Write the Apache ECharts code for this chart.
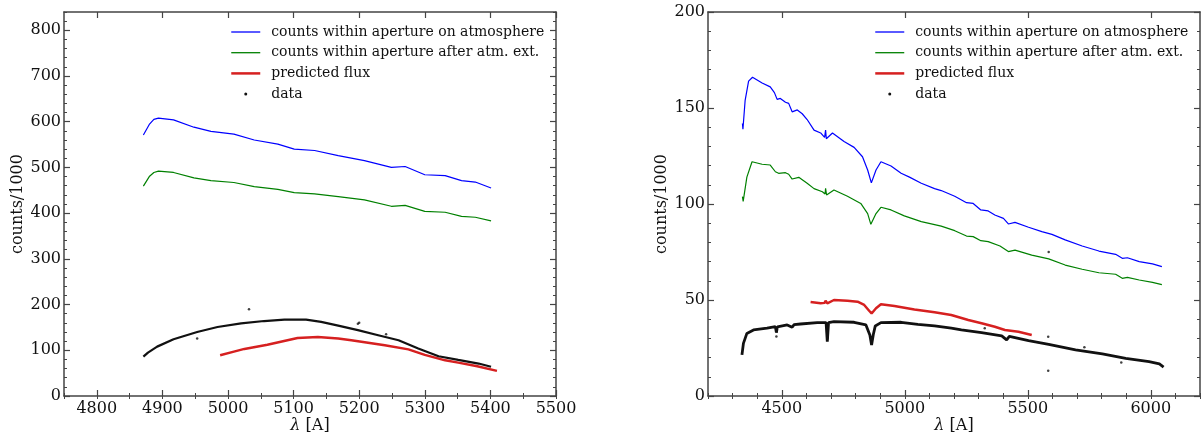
<!DOCTYPE html>
<html>
<head>
<meta charset="utf-8">
<script src="https://cdn.jsdelivr.net/npm/echarts@6/dist/echarts.min.js"></script>
<style>
  html, body { margin: 0; padding: 0; background: #fff; }
  #chart { width: 1203px; height: 437px; }
</style>
</head>
<body>
<div id="chart"></div>
<script>
// ---- left panel (4750-5500 A) ----
const leftWave = [4871, 4880, 4887, 4894, 4917, 4948, 4974, 5009, 5040, 5076, 5101, 5132, 5168, 5208, 5249, 5270, 5300, 5331, 5356, 5377, 5401];
const leftAtmo = [571, 594, 605, 608, 604, 588, 579, 573, 560, 551, 540, 537, 526, 515, 500, 502, 484, 482, 471, 468, 455];
const leftExt  = [459, 480, 489, 492, 489, 477, 471, 467, 458, 452, 445, 442, 436, 429, 415, 417, 404, 402, 393, 391, 383];

const leftFluxWave = [4988, 5009, 5025, 5060, 5106, 5137, 5168, 5188, 5239, 5275, 5300, 5331, 5351, 5380, 5410];
const leftFlux     = [89, 97, 103, 112, 127, 129, 126, 122, 111, 102, 90, 78, 73, 65, 55];

const leftDataWave = [4871, 4878, 4892, 4917, 4953, 4984, 5020, 5055, 5086, 5119, 5142, 5168, 5198, 5229, 5260, 5290, 5321, 5351, 5382, 5401];
const leftData     = [86, 95, 108, 124, 140, 151, 159, 164, 167, 167, 162, 154, 144, 133, 122, 104, 87, 79, 71, 64];
const leftOutWave  = [5032, 4953, 5200, 5198, 5241];
const leftOut      = [190, 126, 160, 158, 135];

// ---- right panel (4200-6200 A) ----
const rightAtmoWave = [4340, 4342, 4351, 4365, 4381, 4420, 4453, 4470, 4481, 4494, 4515, 4528, 4542, 4563, 4583, 4603, 4631, 4658, 4674, 4678, 4681, 4706, 4753, 4794, 4828, 4849, 4864, 4883, 4903, 4944, 4985, 5019, 5067, 5121, 5148, 5203, 5251, 5278, 5309, 5339, 5366, 5401, 5421, 5448, 5503, 5557, 5598, 5652, 5721, 5789, 5857, 5884, 5905, 5953, 6007, 6045];
const rightAtmo     = [142, 139, 154, 164, 166, 163, 161, 158, 154.5, 155, 153, 152.4, 148, 149, 147, 144, 138.5, 137, 134.7, 138.5, 134, 137, 132.5, 129.5, 124.6, 117.7, 111, 117.7, 122, 119.8, 116, 114, 110.8, 108, 107, 104, 100.7, 100.3, 96.9, 96.4, 94.3, 92.5, 89.6, 90.4, 87.9, 85.6, 84.2, 81.3, 78.1, 75.5, 73.8, 71.7, 72, 70, 68.8, 67.4];

const rightExtWave = [4340, 4343, 4358, 4379, 4420, 4453, 4474, 4487, 4515, 4528, 4542, 4569, 4603, 4631, 4665, 4676, 4678, 4682, 4712, 4767, 4821, 4849, 4862, 4883, 4903, 4944, 4998, 5067, 5148, 5203, 5251, 5278, 5309, 5339, 5387, 5421, 5448, 5516, 5585, 5652, 5721, 5789, 5857, 5884, 5905, 5953, 6007, 6045];
const rightExt     = [103.8, 101.4, 114, 122, 120.7, 120.3, 116.8, 116, 116.3, 115.5, 113, 113.9, 110.8, 108, 106.4, 105.2, 108.2, 104.7, 107.3, 104, 100.3, 95, 89.4, 95, 98.3, 96.9, 93.8, 90.8, 88.5, 86.1, 83.3, 83, 80.9, 80.4, 78.1, 75.2, 76, 73.4, 71.4, 68.2, 66, 64.2, 63.4, 61.3, 61.8, 60.4, 59.2, 58];

const rightFluxWave = [4617, 4658, 4674, 4678, 4685, 4712, 4767, 4808, 4835, 4855, 4865, 4883, 4903, 4958, 5039, 5121, 5189, 5258, 5312, 5366, 5407, 5462, 5516];
const rightFlux     = [49, 48.3, 48.5, 49.6, 48.3, 50, 49.6, 49.1, 47.4, 44.4, 43, 45.7, 47.8, 46.9, 45.1, 43.6, 42.2, 39.6, 37.9, 36.1, 34.4, 33.5, 31.8];

const rightDataWave = [4338, 4344, 4358, 4385, 4440, 4474, 4478, 4482, 4522, 4542, 4550, 4576, 4644, 4680, 4685, 4690, 4712, 4794, 4842, 4858, 4865, 4872, 4880, 4903, 4985, 5053, 5121, 5189, 5230, 5312, 5394, 5414, 5425, 5503, 5585, 5694, 5803, 5898, 5993, 6035, 6052];
const rightData     = [21.4, 27.4, 32.6, 34.4, 35.3, 36.1, 33, 36, 37, 35.8, 37.2, 37.5, 38.2, 38.2, 28.3, 38.2, 38.7, 38.4, 37, 31.8, 26.6, 32, 36.5, 38.2, 38.4, 37.3, 36.5, 35.3, 34.4, 33, 31.3, 29.2, 31, 28.8, 26.9, 24, 21.9, 19.6, 17.9, 16.7, 15];
const rightOutWave  = [5583, 5583, 5325, 5730, 5880, 5585, 4478, 4686];
const rightOut      = [30.9, 13.2, 35.3, 25.4, 17.5, 75, 31, 30];

// tick positions
const steps = (a, b, d) => { const r = []; for (let v = a; v <= b + 1e-9; v += d) r.push(v); return r; };
const leftXMajor = steps(4800, 5500, 100);
const leftXMinor = steps(4750, 5500, 50);
const leftYMajor = steps(0, 800, 100);
const leftYMinor = steps(0, 840, 20);
const rightXMajor = [4500, 5000, 5500, 6000];
const rightXMinor = steps(4200, 6200, 100);
const rightYMajor = [0, 50, 100, 150, 200];
const rightYMinor = steps(0, 200, 10);

const NAMES = ['counts within aperture on atmosphere', 'counts within aperture after atm. ext.', 'predicted flux', 'data'];
const FONT = 'DejaVu Serif';
const AXIS = '#444';
const pairs = (xs, ys) => xs.map((x, i) => [x, ys[i]]);
const plain = v => String(v);

function xAxes(grid, min, max, major, minor) {
  const base = { type: 'value', gridIndex: grid, min, max, splitLine: { show: false } };
  return [
    {
      ...base, position: 'bottom',
      axisLine: { show: true, onZero: false, lineStyle: { color: AXIS, width: 1.5 } },
      axisTick: { inside: true, length: 6, customValues: major, lineStyle: { color: AXIS, width: 1.2 } },
      axisLabel: { customValues: major, formatter: plain, margin: 5, color: '#111', fontFamily: FONT, fontSize: 16 },
      name: '{i|λ} [A]', nameLocation: 'middle', nameGap: 22, nameMoveOverlap: false,
      nameTextStyle: { color: '#111', fontFamily: FONT, fontSize: 16, rich: { i: { fontStyle: 'italic', fontFamily: FONT, fontSize: 16, color: '#111' } } }
    },
    { ...base, position: 'bottom', axisLine: { show: false },
      axisTick: { inside: true, length: 3, customValues: minor, lineStyle: { color: AXIS, width: 1 } }, axisLabel: { show: false } },
    { ...base, position: 'top',
      axisLine: { show: true, onZero: false, lineStyle: { color: AXIS, width: 1.5 } },
      axisTick: { inside: true, length: 6, customValues: major, lineStyle: { color: AXIS, width: 1.2 } }, axisLabel: { show: false } },
    { ...base, position: 'top', axisLine: { show: false },
      axisTick: { inside: true, length: 3, customValues: minor, lineStyle: { color: AXIS, width: 1 } }, axisLabel: { show: false } }
  ];
}

function yAxes(grid, min, max, major, minor) {
  const base = { type: 'value', gridIndex: grid, min, max, splitLine: { show: false } };
  return [
    {
      ...base, position: 'left',
      axisLine: { show: true, onZero: false, lineStyle: { color: AXIS, width: 1.5 } },
      axisTick: { inside: true, length: 6, customValues: major, lineStyle: { color: AXIS, width: 1.2 } },
      axisLabel: { customValues: major, formatter: plain, margin: 3, color: '#111', fontFamily: FONT, fontSize: 16 },
      name: 'counts/1000', nameLocation: 'middle', nameGap: 38, nameMoveOverlap: false,
      nameTextStyle: { color: '#111', fontFamily: FONT, fontSize: 16 }
    },
    { ...base, position: 'left', axisLine: { show: false },
      axisTick: { inside: true, length: 3, customValues: minor, lineStyle: { color: AXIS, width: 1 } }, axisLabel: { show: false } },
    { ...base, position: 'right',
      axisLine: { show: true, onZero: false, lineStyle: { color: AXIS, width: 1.5 } },
      axisTick: { inside: true, length: 6, customValues: major, lineStyle: { color: AXIS, width: 1.2 } }, axisLabel: { show: false } },
    { ...base, position: 'right', axisLine: { show: false },
      axisTick: { inside: true, length: 3, customValues: minor, lineStyle: { color: AXIS, width: 1 } }, axisLabel: { show: false } }
  ];
}

function legend(left) {
  return {
    left, top: 24, orient: 'vertical', padding: 0,
    itemWidth: 29, itemHeight: 3, itemGap: 4.7, selectedMode: false,
    textStyle: { fontFamily: FONT, fontSize: 14, color: '#111', padding: [0, 0, 0, 6], lineHeight: 16 },
    data: [
      { name: NAMES[0], lineStyle: { width: 1.3 }, itemStyle: { opacity: 0 } },
      { name: NAMES[1], lineStyle: { width: 1.3 }, itemStyle: { opacity: 0 } },
      { name: NAMES[2], lineStyle: { width: 2.5 }, itemStyle: { opacity: 0 } },
      { name: NAMES[3], icon: 'circle' }
    ]
  };
}

function lineSeries(name, xi, yi, data, color, width) {
  return {
    name, type: 'line', xAxisIndex: xi, yAxisIndex: yi, data, symbol: 'none',
    smooth: false, animation: false, lineStyle: { color, width }, itemStyle: { color }
  };
}

function panelSeries(xi, yi, atmo, ext, flux, dat, out, dataWidth) {
  return [
    lineSeries(NAMES[0], xi, yi, atmo, '#0000ff', 1.2),
    lineSeries(NAMES[1], xi, yi, ext, '#008000', 1.2),
    lineSeries(NAMES[2], xi, yi, flux, '#d62020', 2.5),
    lineSeries(NAMES[3], xi, yi, dat, '#111', dataWidth),
    { name: NAMES[3], type: 'scatter', xAxisIndex: xi, yAxisIndex: yi, data: out,
      symbolSize: 2.5, animation: false, itemStyle: { color: '#111' } }
  ];
}

const chart = echarts.init(document.getElementById('chart'), null, { renderer: 'canvas' });

chart.setOption({
  backgroundColor: '#fff',
  animation: false,
  grid: [
    { left: 64, top: 12, width: 492, height: 384, containLabel: false, outerBoundsMode: 'none' },
    { left: 708, top: 12, width: 492, height: 384, containLabel: false, outerBoundsMode: 'none' }
  ],
  legend: [legend(230), legend(874)],
  xAxis: [...xAxes(0, 4750, 5500, leftXMajor, leftXMinor), ...xAxes(1, 4200, 6200, rightXMajor, rightXMinor)],
  yAxis: [...yAxes(0, 0, 840, leftYMajor, leftYMinor), ...yAxes(1, 0, 200, rightYMajor, rightYMinor)],
  series: [
    ...panelSeries(0, 0, pairs(leftWave, leftAtmo), pairs(leftWave, leftExt), pairs(leftFluxWave, leftFlux),
      pairs(leftDataWave, leftData), pairs(leftOutWave, leftOut), 2.2),
    ...panelSeries(4, 4, pairs(rightAtmoWave, rightAtmo), pairs(rightExtWave, rightExt), pairs(rightFluxWave, rightFlux),
      pairs(rightDataWave, rightData), pairs(rightOutWave, rightOut), 2.8)
  ]
});

window.addEventListener('resize', () => chart.resize());
</script>
</body>
</html>
